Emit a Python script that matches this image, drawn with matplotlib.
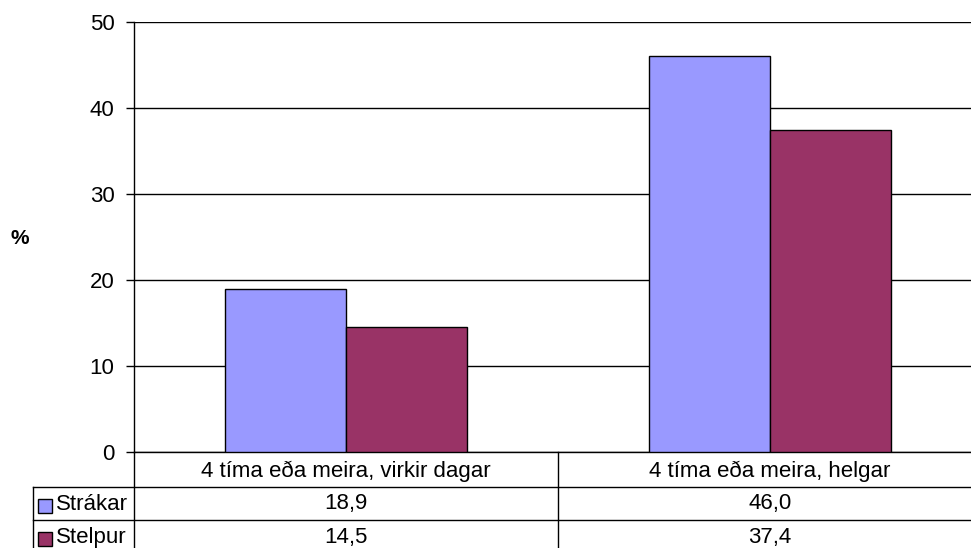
import matplotlib.pyplot as plt
from matplotlib.patches import Rectangle
from matplotlib.transforms import blended_transform_factory

plt.rcParams["font.family"] = ["Liberation Sans", "DejaVu Sans"]

categories = ["4 tíma eða meira, virkir dagar", "4 tíma eða meira, helgar"]
series = ["Strákar", "Stelpur"]
strakar = [18.9, 46.0]
stelpur = [14.5, 37.4]
colors = ["#9999FF", "#993366"]

W, H = 971, 548
fig = plt.figure(figsize=(W / 100, H / 100), dpi=100)

# plot area in pixels: left 134, right 982 (runs off the image), top 22, bottom 452
ax = fig.add_axes([134 / W, (H - 452) / H, (982 - 134) / W, (452 - 22) / H])

x = list(range(len(categories)))
bw = 0.285
for i, (name, vals) in enumerate(zip(series, [strakar, stelpur])):
    offs = [xi + (i - 0.5) * bw for xi in x]
    ax.bar(offs, vals, width=bw, color=colors[i], edgecolor="black",
           linewidth=1, zorder=3)

ax.set_xlim(-0.5, len(categories) - 0.5)
ax.set_ylim(0, 50)
ax.set_yticks(range(0, 51, 10))
ax.yaxis.grid(True, color="black", linewidth=1, zorder=0)
ax.set_xticks([])
ax.tick_params(axis="y", length=6, width=1, labelsize=16, pad=8, color="black")
for s in ["top", "right"]:
    ax.spines[s].set_visible(False)
ax.spines["left"].set_linewidth(1)
ax.spines["bottom"].set_linewidth(1)

fig.text(20 / W, 1 - 238 / H, "%", fontsize=15, fontweight="bold",
         ha="center", va="center")

# data table below the plot
def fy(py):
    return 1 - py / H

def fx(px):
    return px / W

lw = 1
fig.add_artist(plt.Line2D([fx(134), fx(134)], [fy(452), fy(548)], color="black", lw=lw))
fig.add_artist(plt.Line2D([fx(558), fx(558)], [fy(452), fy(548)], color="black", lw=lw))
fig.add_artist(plt.Line2D([fx(33), fx(33)], [fy(487), fy(548)], color="black", lw=lw))
for py in [487, 520]:
    fig.add_artist(plt.Line2D([fx(33), fx(982)], [fy(py), fy(py)], color="black", lw=lw))

trans = blended_transform_factory(ax.transData, fig.transFigure)
for xi, cat in zip(x, categories):
    ax.text(xi, fy(471), cat, transform=trans, ha="center", va="center",
            fontsize=16, clip_on=False)

row_y = [504, 537]
for name, vals, c, ry in zip(series, [strakar, stelpur], colors, row_y):
    fig.add_artist(Rectangle((fx(38), fy(ry + 9)), 14 / W, 14 / H,
                             facecolor=c, edgecolor="black", lw=1,
                             transform=fig.transFigure))
    fig.text(fx(56), fy(ry), name, fontsize=16, ha="left", va="center")
    for xi, v in zip(x, vals):
        ax.text(xi, fy(ry), f"{v:.1f}".replace(".", ","), transform=trans,
                ha="center", va="center", fontsize=16, clip_on=False)

fig.savefig("out.png", dpi=100)
